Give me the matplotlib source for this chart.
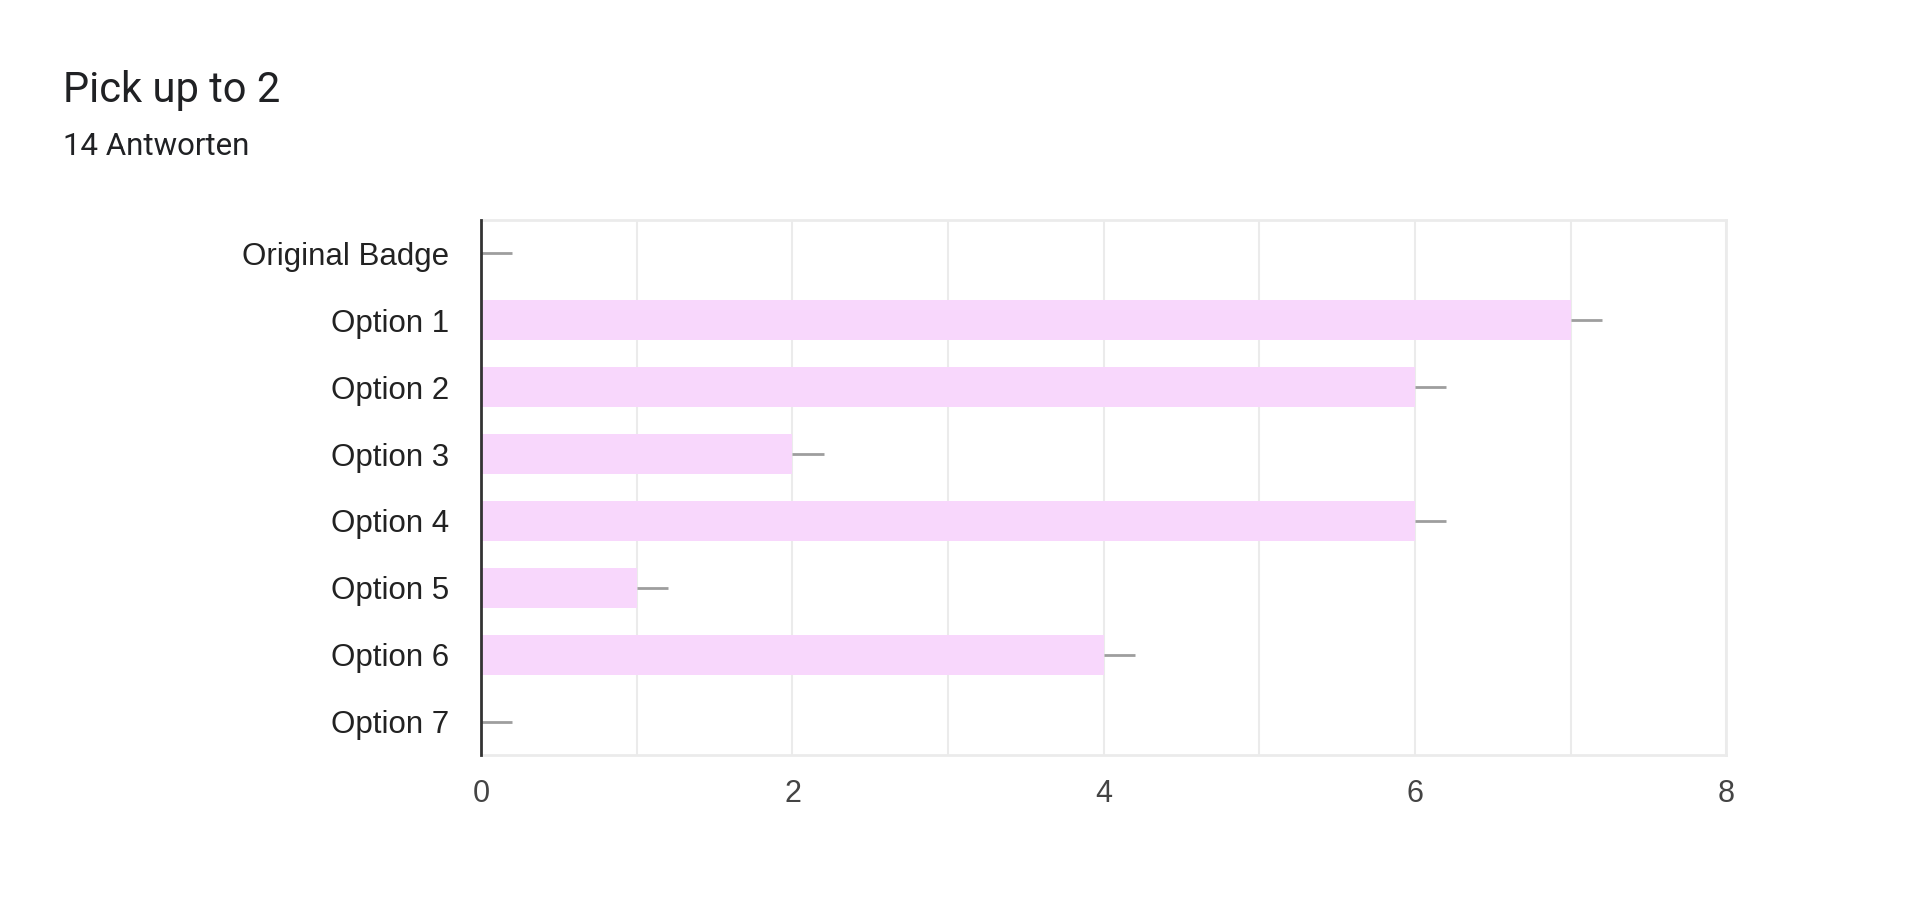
import matplotlib
matplotlib.use("Agg")
import matplotlib.pyplot as plt

categories = ["Original Badge", "Option 1", "Option 2", "Option 3", "Option 4", "Option 5", "Option 6", "Option 7"]
values = [0, 7, 6, 2, 6, 1, 4, 0]
xticks = [0, 2, 4, 6, 8]

plt.rcParams['font.family'] = ['Liberation Sans', 'DejaVu Sans']
fig = plt.figure(figsize=(19.2, 9.13), dpi=100)
ax = fig.add_axes([0.2506, 0.173, 0.6486, 0.586])
y = list(range(len(categories)))
ax.barh(y, values, height=0.6, color="#f8d7fc", zorder=2)
ax.hlines(y, values, [v + 0.2 for v in values], color="#9e9e9e", lw=2, zorder=3)
ax.set_ylim(len(categories) - 0.5, -0.5)
ax.set_xlim(0, 8)
ax.set_yticks(y)
ax.set_yticklabels(categories, fontsize=22.5, color="#222222")
ax.set_xticks(xticks)
ax.set_xticklabels([str(t) for t in xticks], fontsize=22, color="#444444")
ax.set_xticks(range(0, 9), minor=True)
ax.grid(axis="x", which="both", color="#ebebeb", lw=1.5, zorder=0)
ax.tick_params(axis="both", which="both", length=0)
ax.tick_params(axis="y", pad=23)
ax.tick_params(axis="x", pad=17)
for s in ["top", "right", "bottom"]:
    ax.spines[s].set_color("#ebebeb")
    ax.spines[s].set_linewidth(2)
ax.spines["left"].set_color("#333333")
ax.spines["left"].set_linewidth(2)
ax.spines["left"].set_zorder(4)
fig.text(0.033, 0.901, "Pick up to 2", fontsize=30, color="#202124", va="center", family=['Roboto', 'DejaVu Sans'])
fig.text(0.033, 0.839, "14 Antworten", fontsize=22.5, color="#202124", va="center", family=['Roboto', 'DejaVu Sans'])
fig.savefig("out.png", dpi=100, facecolor="white")
